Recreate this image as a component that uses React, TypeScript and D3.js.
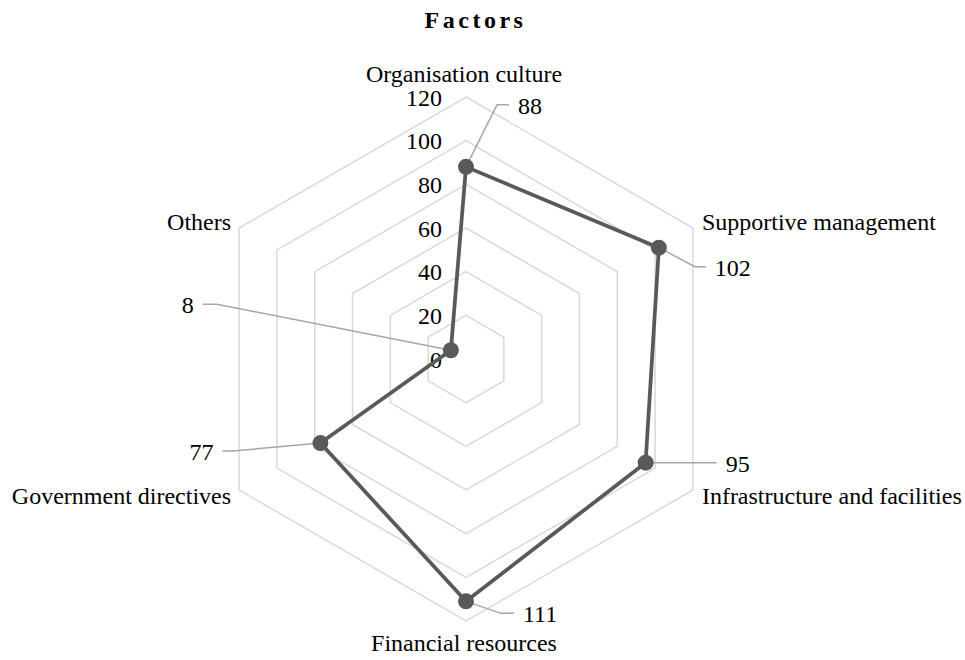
import React from "react";
import * as d3 from "d3";

const categories = [
  "Organisation culture",
  "Supportive management",
  "Infrastructure and facilities",
  "Financial resources",
  "Government directives",
  "Others",
];
const values = [88, 102, 95, 111, 77, 8];
const ticks = [0, 20, 40, 60, 80, 100, 120];
const title = "Factors";

const W = 965;
const H = 660;
const cx = 466;
const cy = 359;
const R = 262;

// label layout: elbow offset from point, tail length (signed)
const labelLayout = [
  { ex: 31, ey: -62, tail: 12 },
  { ex: 36, ey: 19, tail: 11 },
  { ex: 62, ey: 0, tail: 9 },
  { ex: 35, ey: 12, tail: 13 },
  { ex: -88, ey: 8, tail: -10 },
  { ex: -234, ey: -46, tail: -14 },
];

// category label placement relative to the 120-ring vertex
const catLayout = [
  { anchor: "middle", dx: -2, dy: -15 },
  { anchor: "start", dx: 9, dy: 2 },
  { anchor: "start", dx: 9, dy: 14 },
  { anchor: "middle", dx: -2, dy: 30 },
  { anchor: "end", dx: -8, dy: 14 },
  { anchor: "end", dx: -8, dy: 2 },
];

export default function App() {
  const r = d3.scaleLinear().domain([0, 120]).range([0, R]);
  const n = categories.length;
  const angle = (i: number) => (i * 2 * Math.PI) / n;
  const pt = (i: number, v: number): [number, number] => [
    cx + r(v) * Math.sin(angle(i)),
    cy - r(v) * Math.cos(angle(i)),
  ];
  const line = d3.line<[number, number]>().curve(d3.curveLinearClosed);
  const font = "'Liberation Serif', 'Times New Roman', serif";

  return (
    <svg
      width={W}
      height={H}
      style={{ position: "fixed", left: 0, top: 0, background: "#fff" }}
      fontFamily={font}
    >
      <rect width={W} height={H} fill="#fff" />
      <text
        x={W / 2 - 7}
        y={28}
        textAnchor="middle"
        fontSize={24}
        fontWeight="bold"
        letterSpacing={3.5}
        fill="#000"
      >
        {title}
      </text>
      {ticks
        .filter((t) => t > 0)
        .map((t) => (
          <path
            key={t}
            d={line(categories.map((_, i) => pt(i, t))) || ""}
            fill="none"
            stroke="#d9d9d9"
            strokeWidth={1.5}
          />
        ))}
      {ticks.map((t) => (
        <text
          key={"t" + t}
          x={cx - 24}
          y={cy - r(t) + 8.5}
          textAnchor="end"
          fontSize={24}
          fill="#000"
        >
          {t}
        </text>
      ))}
      {categories.map((c, i) => {
        const [x, y] = pt(i, 120);
        const L = catLayout[i];
        return (
          <text
            key={c}
            x={x + L.dx}
            y={y + L.dy}
            textAnchor={L.anchor as any}
            fontSize={24}
            fill="#000"
          >
            {c}
          </text>
        );
      })}
      {values.map((v, i) => {
        const [x, y] = pt(i, v);
        const L = labelLayout[i];
        const ex = x + L.ex;
        const ey = y + L.ey;
        const tx = ex + L.tail;
        return (
          <polyline
            key={"l" + i}
            points={`${x},${y} ${ex},${ey} ${tx},${ey}`}
            fill="none"
            stroke="#a6a6a6"
            strokeWidth={1.5}
          />
        );
      })}
      <path
        d={line(values.map((v, i) => pt(i, v))) || ""}
        fill="none"
        stroke="#595959"
        strokeWidth={3.75}
        strokeLinejoin="round"
      />
      {values.map((v, i) => {
        const [x, y] = pt(i, v);
        return <circle key={"c" + i} cx={x} cy={y} r={8} fill="#595959" />;
      })}
      {values.map((v, i) => {
        const [x, y] = pt(i, v);
        const L = labelLayout[i];
        const ex = x + L.ex;
        const ey = y + L.ey;
        const tx = ex + L.tail + (L.tail > 0 ? 9 : -9);
        return (
          <text
            key={"v" + i}
            x={tx}
            y={ey + 9}
            textAnchor={L.tail > 0 ? "start" : "end"}
            fontSize={24}
            fill="#000"
          >
            {v}
          </text>
        );
      })}
    </svg>
  );
}
